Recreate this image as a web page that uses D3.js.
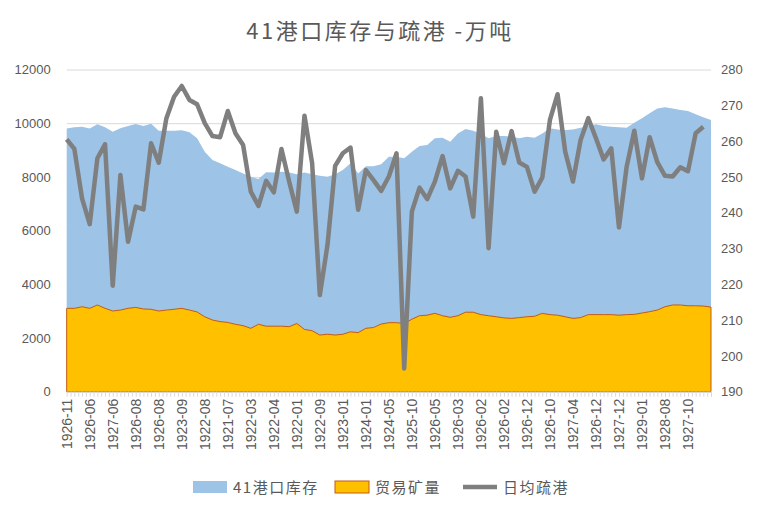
<!DOCTYPE html>
<html>
<head>
<meta charset="utf-8">
<script src="https://cdn.jsdelivr.net/npm/d3@7/dist/d3.min.js"></script>
<style>
  body { margin: 0; background: #fff; }
  svg text { font-family: "Noto Sans CJK SC", "Liberation Sans", sans-serif; fill: #595959; }
</style>
</head>
<body>
<div id="viz"></div>
<script>
// tick labels on the category axis (one every 3 periods)
var dateLabels = ['1926-11', '1926-06', '1927-06', '1926-08', '1926-08', '1923-09', '1922-08',
  '1921-07', '1922-03', '1922-04', '1922-01', '1922-09', '1923-01', '1924-01', '1924-05',
  '1925-10', '1926-05', '1926-03', '1926-02', '1926-02', '1926-12', '1926-10', '1927-04',
  '1926-12', '1927-12', '1929-01', '1928-08', '1927-10'];

// 41港口库存 (万吨)
var stock = [9800, 9850, 9870, 9800, 9960, 9850, 9680, 9810, 9900, 9970,
  9900, 9980, 9720, 9720, 9720, 9740, 9660, 9440, 8940, 8630,
  8510, 8380, 8260, 8130, 8010, 7920, 8170, 8160, 8190, 8160,
  8100, 8160, 8100, 8040, 8010, 8100, 8260, 8510, 8130, 8400,
  8400, 8470, 8750, 8750, 8690, 8940, 9150, 9190, 9440, 9460,
  9310, 9620, 9780, 9720, 9600, 9440, 9520, 9520, 9500, 9440,
  9500, 9460, 9620, 9810, 9770, 9745, 9770, 9830, 9900, 9960,
  9900, 9870, 9850, 9830, 10020, 10180, 10370, 10550, 10590, 10550,
  10490, 10450, 10330, 10220, 10120];

// 贸易矿量 (万吨)
var tradeOre = [3105, 3105, 3165, 3105, 3230, 3105, 3005, 3040, 3105, 3140,
  3080, 3070, 3005, 3040, 3070, 3105, 3040, 2970, 2790, 2670,
  2610, 2580, 2510, 2460, 2360, 2510, 2440, 2440, 2440, 2420,
  2540, 2320, 2270, 2110, 2140, 2110, 2140, 2230, 2200, 2360,
  2390, 2520, 2570, 2570, 2540, 2700, 2830, 2850, 2920, 2830,
  2770, 2830, 2960, 2960, 2870, 2830, 2790, 2750, 2730, 2760,
  2790, 2810, 2920, 2870, 2850, 2790, 2730, 2760, 2870, 2870,
  2870, 2870, 2850, 2870, 2880, 2930, 2980, 3040, 3165, 3230,
  3230, 3200, 3200, 3190, 3150];

// 日均疏港 (万吨, right axis) - last period not reported
var dailyOut = [260.5, 257.8, 244.0, 236.8, 255.2, 259.1, 219.6, 250.5, 231.9, 241.7,
  240.9, 259.4, 254.0, 266.4, 272.4, 275.4, 271.5, 270.3, 265.0, 261.4,
  261.1, 268.4, 262.2, 258.9, 245.9, 241.9, 248.9, 245.7, 257.8, 248.7,
  240.3, 267.1, 253.8, 217.0, 231.0, 253.1, 256.6, 258.2, 240.8, 251.9,
  249.1, 246.1, 250.1, 256.6, 196.5, 240.3, 247.0, 243.8, 248.7, 255.8,
  246.8, 251.7, 250.1, 238.9, 272.0, 230.1, 262.6, 253.8, 262.8, 254.0,
  252.8, 245.9, 249.8, 265.9, 273.1, 257.0, 248.7, 260.3, 266.4, 260.8,
  254.9, 258.0, 235.9, 252.8, 262.9, 249.6, 261.1, 254.1, 250.3, 250.1,
  252.7, 251.6, 262.2, 264.0, null];

var leftTicks = [0, 2000, 4000, 6000, 8000, 10000, 12000];
var rightTicks = [190, 200, 210, 220, 230, 240, 250, 260, 270, 280];

var width = 759, height = 507;
var margin = {top: 69.5, right: 48, bottom: 115.3, left: 66.7};
var plotW = width - margin.left - margin.right;
var plotH = height - margin.top - margin.bottom;

var svg = d3.select('#viz').append('svg')
  .attr('width', width)
  .attr('height', height);

var x = d3.scaleLinear().domain([0, stock.length - 1]).range([0, plotW]);
var yLeft = d3.scaleLinear().domain([0, 12000]).range([plotH, 0]);
var yRight = d3.scaleLinear().domain([190, 280]).range([plotH, 0]);

var g = svg.append('g').attr('transform', `translate(${margin.left},${margin.top})`);

// gridlines
g.append('g')
  .call(d3.axisLeft(yLeft).tickValues(leftTicks).tickSize(-plotW).tickFormat(''))
  .call(s => s.select('.domain').remove())
  .selectAll('line').attr('stroke', '#d9d9d9');

// stock area
var stockArea = d3.area()
  .x((d, i) => x(i))
  .y0(yLeft(0))
  .y1(d => yLeft(d));

g.append('path').datum(stock)
  .attr('d', stockArea)
  .attr('fill', '#9dc3e6');

// trade ore area
g.append('path').datum(tradeOre)
  .attr('d', stockArea)
  .attr('fill', '#ffc000')
  .attr('stroke', '#c55a11')
  .attr('stroke-width', 1);

// daily line
var line = d3.line()
  .defined(d => d != null)
  .x((d, i) => x(i))
  .y(d => yRight(d));

g.append('path').datum(dailyOut)
  .attr('d', line)
  .attr('fill', 'none')
  .attr('stroke', '#7f7f7f')
  .attr('stroke-width', 4.5)
  .attr('stroke-linejoin', 'round');

// x axis: minor ticks every half period, labels every 3 periods
var xTicks = d3.range(0, stock.length - 0.5, 0.5).concat([stock.length - 1]);
var xAxis = d3.axisBottom(x)
  .tickValues(xTicks)
  .tickSize(5)
  .tickSizeOuter(0)
  .tickFormat(d => (d % 3 === 0 && d / 3 < dateLabels.length) ? dateLabels[d / 3] : '');

var xg = g.append('g')
  .attr('transform', `translate(0,${plotH})`)
  .call(xAxis);
xg.select('.domain').attr('stroke', '#d9d9d9');
xg.selectAll('line').attr('stroke', '#d9d9d9');
xg.selectAll('text')
  .attr('transform', 'rotate(-90)')
  .attr('text-anchor', 'end')
  .attr('x', -7)
  .attr('y', 0)
  .attr('dy', '0.35em')
  .style('font-size', '14px')
  .style('font-family', '"Liberation Sans", sans-serif');

// left axis
var lg = g.append('g')
  .call(d3.axisLeft(yLeft).tickValues(leftTicks).tickSize(0).tickPadding(16).tickFormat(d3.format('d')));
lg.select('.domain').remove();
lg.selectAll('text').style('font-size', '13px').style('font-family', '"Liberation Sans", sans-serif');

// right axis
var rg = g.append('g')
  .attr('transform', `translate(${plotW},0)`)
  .call(d3.axisRight(yRight).tickValues(rightTicks).tickSize(0).tickPadding(10));
rg.select('.domain').remove();
rg.selectAll('text').style('font-size', '13px').style('font-family', '"Liberation Sans", sans-serif');

// title
svg.append('text')
  .attr('x', 380)
  .attr('y', 39)
  .attr('text-anchor', 'middle')
  .style('font-size', '22px')
  .style('letter-spacing', '2.5px')
  .text('41港口库存与疏港 -万吨');

// legend
var legend = [
  {name: '41港口库存', type: 'area', fill: '#9dc3e6', stroke: 'none', x: 193},
  {name: '贸易矿量', type: 'area', fill: '#ffc000', stroke: '#c55a11', x: 335},
  {name: '日均疏港', type: 'line', stroke: '#7f7f7f', x: 463}
];
var lgd = svg.append('g');
legend.forEach(function(d) {
  if (d.type === 'area') {
    lgd.append('rect')
      .attr('x', d.x).attr('y', 481)
      .attr('width', 34).attr('height', 12)
      .attr('fill', d.fill)
      .attr('stroke', d.stroke);
  } else {
    lgd.append('line')
      .attr('x1', d.x).attr('x2', d.x + 34)
      .attr('y1', 487).attr('y2', 487)
      .attr('stroke', d.stroke)
      .attr('stroke-width', 4.5);
  }
  lgd.append('text')
    .attr('x', d.x + 40)
    .attr('y', 493)
    .style('font-size', '15px')
    .style('letter-spacing', '1.5px')
    .text(d.name);
});
</script>
</body>
</html>
